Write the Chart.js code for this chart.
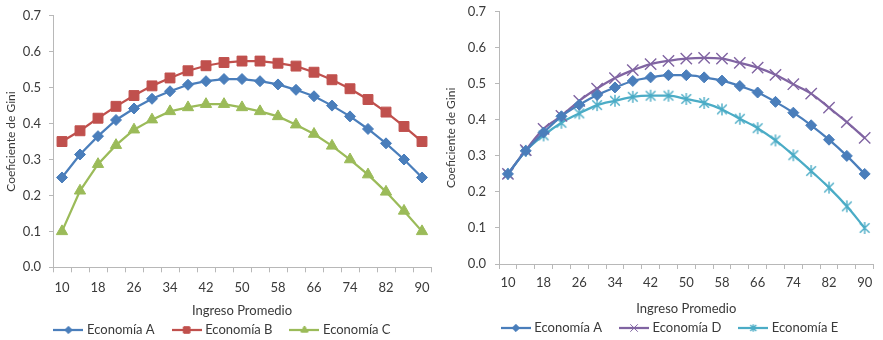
<!DOCTYPE html>
<html>
<head>
<meta charset="utf-8">
<script src="https://cdn.jsdelivr.net/npm/chart.js@4/dist/chart.umd.min.js"></script>
<style>
  html, body { margin: 0; padding: 0; background: #ffffff; }
  #wrap { position: relative; width: 883px; height: 340px; overflow: hidden; }
  .box { position: absolute; }
  #boxL { left: 0; top: 0; width: 440px; height: 340px; }
  #boxR { left: 440px; top: -5px; width: 443px; height: 345px; }
</style>
</head>
<body>
<div id="wrap">
  <div class="box" id="boxL"><canvas id="giniLeft"></canvas></div>
  <div class="box" id="boxR"><canvas id="giniRight"></canvas></div>
</div>
<script>
// Ingreso promedio (categorías del eje X)
const categories = [10, 14, 18, 22, 26, 30, 34, 38, 42, 46, 50, 54, 58, 62, 66, 70, 74, 78, 82, 86, 90];
// Etiquetas visibles del eje X (una de cada dos categorías)
const xTickLabels = ['10', '', '18', '', '26', '', '34', '', '42', '', '50', '', '58', '', '66', '', '74', '', '82', '', '90'];
// Etiquetas del eje Y
const yTickLabels = ['0.0', '0.1', '0.2', '0.3', '0.4', '0.5', '0.6', '0.7'];

// Coeficiente de Gini por economía
const economiaA = [0.25, 0.314, 0.365, 0.41, 0.442, 0.469, 0.49, 0.508, 0.518, 0.524, 0.524, 0.518, 0.509, 0.494, 0.476, 0.45, 0.42, 0.385, 0.345, 0.30, 0.25];
const economiaB = [0.35, 0.38, 0.415, 0.448, 0.478, 0.505, 0.527, 0.547, 0.561, 0.57, 0.574, 0.574, 0.568, 0.56, 0.543, 0.522, 0.497, 0.467, 0.432, 0.392, 0.35];
const economiaC = [0.10, 0.213, 0.287, 0.34, 0.383, 0.411, 0.434, 0.445, 0.454, 0.454, 0.445, 0.434, 0.42, 0.397, 0.371, 0.338, 0.30, 0.258, 0.21, 0.157, 0.10];
const economiaD = [0.25, 0.316, 0.375, 0.411, 0.453, 0.487, 0.516, 0.538, 0.555, 0.564, 0.57, 0.572, 0.57, 0.558, 0.545, 0.525, 0.499, 0.473, 0.434, 0.394, 0.35];
const economiaE = [0.25, 0.314, 0.357, 0.392, 0.418, 0.441, 0.453, 0.464, 0.467, 0.467, 0.458, 0.447, 0.429, 0.403, 0.377, 0.343, 0.302, 0.258, 0.212, 0.16, 0.10];

const FONT = 'Lato, "Open Sans", "DejaVu Sans", sans-serif';
const TEXT = '#3a3a3a';
const AXIS = '#b8b8b8';

const COLORS = {
  A: '#4a7ebb',
  B: '#c0504d',
  C: '#9bbb59',
  D: '#8064a2',
  E: '#4bacc6'
};

// Asterisk marker (an X crossed by a vertical stroke)
function asterisk(color, size) {
  const c = document.createElement('canvas');
  const s = Math.ceil(size) + 2;
  c.width = s; c.height = s;
  const ctx = c.getContext('2d');
  const m = s / 2, h = size / 2, d = h * 0.8;
  ctx.strokeStyle = color;
  ctx.lineWidth = 1.4;
  ctx.beginPath();
  ctx.moveTo(m - d, m - d); ctx.lineTo(m + d, m + d);
  ctx.moveTo(m + d, m - d); ctx.lineTo(m - d, m + d);
  ctx.moveTo(m, m - h); ctx.lineTo(m, m + h);
  ctx.stroke();
  return c;
}

// Small line+marker swatch used as the legend symbol
function swatch(color, style, radius) {
  const c = document.createElement('canvas');
  c.width = 30; c.height = 12;
  const ctx = c.getContext('2d');
  ctx.strokeStyle = color;
  ctx.lineWidth = 2.25;
  ctx.beginPath();
  ctx.moveTo(0, 6); ctx.lineTo(30, 6);
  ctx.stroke();
  if (style === 'asterisk') {
    ctx.drawImage(asterisk(color, radius * 2), 15 - (Math.ceil(radius * 2) + 2) / 2, 6 - (Math.ceil(radius * 2) + 2) / 2);
    return c;
  }
  ctx.fillStyle = color;
  ctx.lineWidth = 1;
  Chart.helpers.drawPoint(ctx, { pointStyle: style, radius: radius, rotation: 0, borderWidth: 1 }, 15, 6);
  if (style !== 'crossRot') ctx.fill();
  ctx.stroke();
  return c;
}

function series(label, data, color, style, radius, tension) {
  const marker = style === 'asterisk' ? asterisk(color, radius * 2) : style;
  return {
    label: label,
    data: data,
    borderColor: color,
    backgroundColor: color,
    borderWidth: 2.25,
    pointStyle: marker,
    pointRadius: radius,
    pointHoverRadius: radius,
    pointBorderColor: color,
    pointBackgroundColor: color,
    pointBorderWidth: style === 'crossRot' ? 1.4 : 1,
    tension: tension,
    cubicInterpolationMode: tension > 0 ? 'monotone' : 'default',
    legendSymbol: swatch(color, style, radius * 0.62)
  };
}

// Moves the legend row sideways by a fixed amount after layout
const legendShift = {
  id: 'legendShift',
  afterLayout(chart, args, opts) {
    const dx = opts.dx || 0;
    if (chart.legend && dx) {
      chart.legend.left += dx;
      chart.legend.right += dx;
    }
  }
};

function buildChart(canvasId, datasets, cfg) {
  return new Chart(document.getElementById(canvasId), {
    type: 'line',
    data: { labels: categories, datasets: datasets },
    plugins: [legendShift],
    options: {
      responsive: true,
      maintainAspectRatio: false,
      animation: false,
      events: [],
      layout: { padding: cfg.padding },
      plugins: {
        tooltip: { enabled: false },
        legendShift: { dx: cfg.legendDx },
        legend: {
          position: 'bottom',
          labels: {
            usePointStyle: true,
            pointStyleWidth: 24,
            boxHeight: 12,
            padding: 20,
            color: TEXT,
            font: { family: FONT, size: 13 },
            generateLabels: function (chart) {
              return chart.data.datasets.map(function (ds, i) {
                return {
                  text: ds.label,
                  pointStyle: ds.legendSymbol,
                  fillStyle: ds.borderColor,
                  strokeStyle: ds.borderColor,
                  lineWidth: 0,
                  fontColor: TEXT,
                  hidden: false,
                  datasetIndex: i
                };
              });
            }
          }
        }
      },
      scales: {
        x: {
          type: 'category',
          offset: true,
          afterFit: function (scale) { scale.height = cfg.xHeight; },
          grid: {
            offset: true,
            drawOnChartArea: false,
            drawTicks: true,
            tickLength: 5,
            color: AXIS,
            lineWidth: 1
          },
          border: { color: AXIS, width: 1 },
          ticks: {
            autoSkip: false,
            maxRotation: 0,
            padding: cfg.xTickPad,
            color: TEXT,
            font: { family: FONT, size: 13 },
            callback: function (value, index) { return xTickLabels[index]; }
          },
          title: {
            display: true,
            text: 'Ingreso Promedio',
            color: TEXT,
            font: { family: FONT, size: 13 },
            padding: { top: 0, bottom: cfg.xTitlePad }
          }
        },
        y: {
          min: 0,
          max: 0.7,
          afterFit: function (scale) { scale.width = cfg.yWidth; },
          grid: {
            drawOnChartArea: false,
            drawTicks: true,
            tickLength: 4,
            color: AXIS,
            lineWidth: 1
          },
          border: { color: AXIS, width: 1 },
          ticks: {
            stepSize: 0.1,
            padding: cfg.yTickPad,
            color: TEXT,
            font: { family: FONT, size: 13 },
            callback: function (value, index) { return yTickLabels[index]; }
          },
          title: {
            display: true,
            text: 'Coeficiente de Gini',
            color: TEXT,
            font: { family: FONT, size: 12 },
            padding: { top: 4, bottom: 0 }
          }
        }
      }
    }
  });
}

buildChart('giniLeft', [
  series('Economía A', economiaA, COLORS.A, 'rectRot', 5.5, 0),
  series('Economía B', economiaB, COLORS.B, 'rect', 7, 0),
  series('Economía C', economiaC, COLORS.C, 'triangle', 6.5, 0)
], {
  padding: { top: 8, right: 9, bottom: -6.5, left: 0 },
  yWidth: 53, yTickPad: 8,
  xHeight: 36.2, xTickPad: 8, xTitlePad: -15.3,
  legendDx: 8
});

buildChart('giniRight', [
  series('Economía A', economiaA, COLORS.A, 'rectRot', 5.5, 0.4),
  series('Economía D', economiaD, COLORS.D, 'crossRot', 8, 0.4),
  series('Economía E', economiaE, COLORS.E, 'asterisk', 6, 0.4)
], {
  padding: { top: 3, right: 1, bottom: -4.5, left: 0 },
  yWidth: 59, yTickPad: 9,
  xHeight: 37.5, xTickPad: 6.2, xTitlePad: -15.3,
  legendDx: 10
});
</script>
</body>
</html>
